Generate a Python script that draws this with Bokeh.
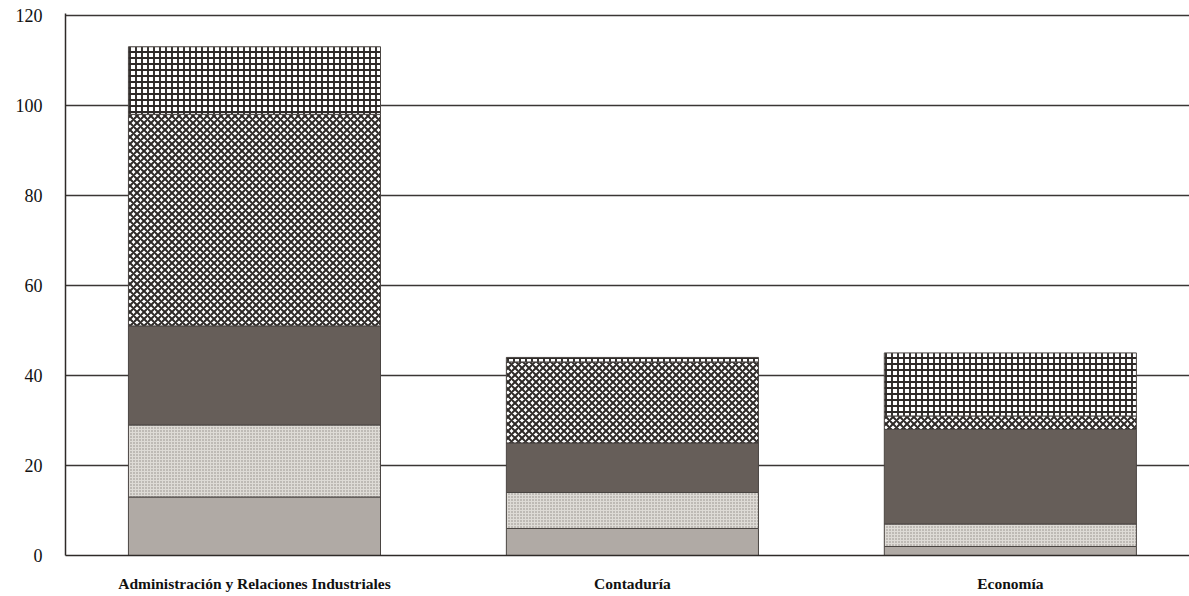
from bokeh.plotting import figure
from bokeh.models import Range1d, FixedTicker, ColumnDataSource
from bokeh.embed import file_html
from bokeh.resources import INLINE

categories = ["Administración y Relaciones Industriales", "Contaduría", "Economía"]
seg_gray = [13, 6, 2]
seg_dotted = [16, 8, 5]
seg_dark = [22, 11, 21]
seg_cross = [47, 18, 3]
seg_checker = [15, 1, 14]
y_ticks = [0, 20, 40, 60, 80, 100, 120]

xs = [i + 0.5 for i in range(len(categories))]
source = ColumnDataSource(dict(x=xs, s1=seg_gray, s2=seg_dotted, s3=seg_dark,
                               s4=seg_cross, s5=seg_checker))

p = figure(width=1189, height=596, output_backend="svg", toolbar_location=None,
           x_range=Range1d(0, 2.974), y_range=Range1d(0, 120.4))
p.min_border_left = 65
p.min_border_right = 0
p.min_border_top = 13
p.min_border_bottom = 41
p.outline_line_color = None
p.background_fill_color = "white"
p.border_fill_color = "white"

p.vbar_stack(["s1", "s2", "s3", "s4", "s5"], x="x", width=0.667, source=source,
             fill_color=["#b0aaa5", "#dedbd6", "#665e59", "white", "white"],
             hatch_pattern=[" ", ".", " ", "x", "+"],
             hatch_color=["#b0aaa5", "#8d8883", "#665e59", "#2e2a28", "#2e2a28"],
             hatch_scale=[6, 3, 6, 7, 6],
             hatch_weight=[1, 1, 1, 2.0, 1.9],
             line_color="#4a4542", line_width=1)

p.yaxis.ticker = FixedTicker(ticks=y_ticks)
p.ygrid.ticker = FixedTicker(ticks=y_ticks)
p.ygrid.grid_line_color = "#3a3634"
p.ygrid.grid_line_width = 1.5
p.ygrid.level = "underlay"
p.xgrid.grid_line_color = None

p.yaxis.axis_line_color = "#2e2a28"
p.yaxis.axis_line_width = 1.5
p.yaxis.major_tick_line_color = None
p.yaxis.minor_tick_line_color = None
p.yaxis.major_tick_out = 0
p.yaxis.minor_tick_out = 0
p.yaxis.major_label_standoff = 23
p.yaxis.major_label_text_font = "Liberation Serif"
p.yaxis.major_label_text_font_size = "18px"
p.yaxis.major_label_text_color = "#111111"

p.xaxis.ticker = FixedTicker(ticks=xs)
p.xaxis.major_label_overrides = {x: c for x, c in zip(xs, categories)}
p.xaxis.axis_line_color = "#2e2a28"
p.xaxis.axis_line_width = 1.5
p.xaxis.major_tick_line_color = None
p.xaxis.minor_tick_line_color = None
p.xaxis.major_tick_out = 0
p.xaxis.minor_tick_out = 0
p.xaxis.major_label_standoff = 19
p.xaxis.major_label_text_font = "Liberation Serif"
p.xaxis.major_label_text_font_style = "bold"
p.xaxis.major_label_text_font_size = "15.5px"
p.xaxis.major_label_text_color = "#111111"

open("out.html", "w").write(file_html(p, INLINE))
